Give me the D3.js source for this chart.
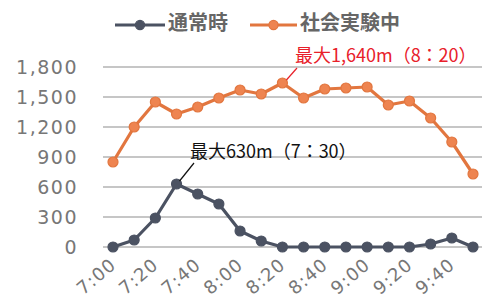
<!DOCTYPE html>
<html><head><meta charset="utf-8">
<script src="https://cdn.jsdelivr.net/npm/d3@7"></script>
<style>body{margin:0;background:#fff}svg{display:block}</style>
</head><body><svg id="c" width="482" height="302"></svg>
<script>
const times = ["7:00","7:10","7:20","7:30","7:40","7:50","8:00","8:10","8:20","8:30","8:40","8:50","9:00","9:10","9:20","9:30","9:40","9:50"];
const tickLabels = ["7:00","7:20","7:40","8:00","8:20","8:40","9:00","9:20","9:40"];
const normalVals = [0,70,290,630,530,430,160,60,0,0,0,0,0,0,0,30,90,0];
const experimentVals = [850,1200,1450,1330,1400,1490,1570,1530,1640,1490,1580,1590,1600,1420,1460,1290,1050,730];
const yTicks = [0,300,600,900,1200,1500,1800];
const seriesNames = ["通常時","社会実験中"];
const annoTexts = ["最大630m（7：30）","最大1,640m（8：20）"];

const svg = d3.select("#c");
const x = d3.scalePoint().domain(times).range([113,473]);
const y = d3.scaleLinear().domain([0,1800]).range([247,67]);
const fmt = d3.format(",");
const jp = "'Noto Sans CJK JP','Noto Sans',sans-serif";

// gridlines
svg.append("g").selectAll("line").data(yTicks).join("line")
  .attr("x1",103).attr("x2",482).attr("y1",d=>y(d)).attr("y2",d=>y(d))
  .attr("stroke","#c6c6c6").attr("stroke-width",2);

// y labels
svg.append("g").selectAll("text").data(yTicks).join("text")
  .attr("x",78).attr("y",d=>y(d)+1).attr("text-anchor","end").attr("dominant-baseline","middle")
  .attr("font-family","'DejaVu Sans',sans-serif").attr("font-size",19).attr("letter-spacing",1.5)
  .attr("fill","#777").text(d=>fmt(d));

// x labels
svg.append("g").selectAll("text").data(tickLabels).join("text")
  .attr("transform",d=>`translate(${x(d)+1},${263}) rotate(-40)`)
  .attr("text-anchor","end").attr("dominant-baseline","middle")
  .attr("font-family","'DejaVu Sans',sans-serif").attr("font-size",18).attr("letter-spacing",1)
  .attr("fill","#777").text(d=>d);

const line = d3.line().x((d,i)=>x(times[i])).y(d=>y(d));
const series = [
  {name:seriesNames[0], vals:normalVals, stroke:"#4b5262", fill:"#4b5262"},
  {name:seriesNames[1], vals:experimentVals, stroke:"#e2763f", fill:"#ee8450"}
];
series.forEach(s=>{
  svg.append("path").datum(s.vals).attr("d",line).attr("fill","none")
    .attr("stroke",s.stroke).attr("stroke-width",3.2).attr("stroke-linejoin","round");
  svg.append("g").selectAll("circle").data(s.vals).join("circle")
    .attr("cx",(d,i)=>x(times[i])).attr("cy",d=>y(d)).attr("r",5)
    .attr("fill",s.fill).attr("stroke",s.stroke).attr("stroke-width",1.2);
});

// legend
const leg = [{x1:115,x2:165,tx:168,s:series[0]},{x1:250,x2:297,tx:300,s:series[1]}];
leg.forEach(l=>{
  svg.append("line").attr("x1",l.x1).attr("x2",l.x2).attr("y1",25).attr("y2",25)
    .attr("stroke",l.s.stroke).attr("stroke-width",3.2);
  svg.append("circle").attr("cx",(l.x1+l.x2)/2).attr("cy",25).attr("r",4.6)
    .attr("fill",l.s.fill).attr("stroke",l.s.stroke).attr("stroke-width",1.2);
  svg.append("text").attr("x",l.tx).attr("y",25).attr("dominant-baseline","middle")
    .attr("font-family",jp).attr("font-size",20).attr("font-weight","bold")
    .attr("fill","#666").text(l.s.name);
});

// annotations
const iMaxN = normalVals.indexOf(d3.max(normalVals));
const iMaxE = experimentVals.indexOf(d3.max(experimentVals));
svg.append("line").attr("x1",194).attr("y1",163).attr("x2",x(times[iMaxN])+3).attr("y2",y(normalVals[iMaxN])-3)
  .attr("stroke","#111").attr("stroke-width",1.2);
svg.append("text").attr("x",190).attr("y",158).attr("font-family",jp).attr("font-size",18)
  .attr("fill","#111").text(annoTexts[0]);
svg.append("line").attr("x1",297).attr("y1",68).attr("x2",x(times[iMaxE])+4).attr("y2",y(experimentVals[iMaxE])-3)
  .attr("stroke","#e8202a").attr("stroke-width",1.2);
svg.append("text").attr("x",295).attr("y",62).attr("font-family",jp).attr("font-size",18)
  .attr("fill","#e8202a").text(annoTexts[1]);
</script></body></html>
